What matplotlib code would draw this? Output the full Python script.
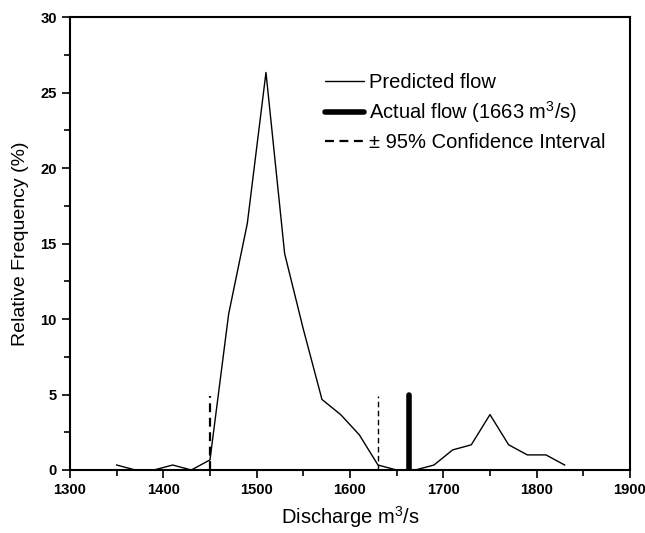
import matplotlib.pyplot as plt
from matplotlib.ticker import MultipleLocator

plt.rcParams['font.family'] = ['Liberation Sans', 'DejaVu Sans']

# predicted discharge bins (m3/s) and relative frequency (%)
discharge = [1350, 1370, 1390, 1410, 1430, 1450, 1470, 1490, 1510, 1530, 1550, 1570, 1590,
             1610, 1630, 1650, 1670, 1690, 1710, 1730, 1750, 1770, 1790, 1810, 1830]
frequency = [0.33, 0, 0, 0.33, 0, 0.67, 10.33, 16.33, 26.33, 14.33, 9.33, 4.67, 3.67,
             2.33, 0.33, 0, 0, 0.33, 1.33, 1.67, 3.67, 1.67, 1.0, 1.0, 0.33]

actual_flow = 1663
ci_low, ci_high = 1450, 1630
marker_height = 5.0
ci_height = 4.9

fig = plt.figure(figsize=(6.45, 5.33), dpi=100)
ax = fig.add_axes([0.1085, 0.1182, 0.8682, 0.8498])

ax.plot(discharge, frequency, color='black', lw=1.0, label='Predicted flow')
ax.plot([actual_flow, actual_flow], [0, marker_height], color='black', lw=4,
        solid_capstyle='round', label='Actual flow (1663 m$^{\\mathregular{3}}$/s)')
ax.plot([ci_low, ci_low], [0, ci_height], color='black', lw=1.6, ls=(0, (4, 2.5)),
        label='± 95% Confidence Interval')
ax.plot([ci_high, ci_high], [0, ci_height], color='black', lw=1.0, ls=(0, (4, 2.5)))

ax.set_xlim(1300, 1900)
ax.set_ylim(0, 30)
ax.xaxis.set_major_locator(MultipleLocator(100))
ax.xaxis.set_minor_locator(MultipleLocator(50))
ax.yaxis.set_major_locator(MultipleLocator(5))
ax.yaxis.set_minor_locator(MultipleLocator(2.5))
ax.tick_params(which='both', direction='out', width=1.2, top=False, right=False)
ax.tick_params(which='major', length=6)
ax.tick_params(which='minor', length=4)
for lbl in ax.get_xticklabels() + ax.get_yticklabels():
    lbl.set_fontweight('bold')
    lbl.set_fontsize(10.6)
for s in ax.spines.values():
    s.set_linewidth(1.5)

ax.set_xlabel('Discharge m$^{\\mathregular{3}}$/s', fontsize=14.5, labelpad=5)
ax.set_ylabel('Relative Frequency (%)', fontsize=14, labelpad=8)

leg = ax.legend(loc='upper left', bbox_to_anchor=(0.455, 0.877), frameon=False, fontsize=14.5,
                handlelength=1.95, handletextpad=0.25, labelspacing=0.38,
                borderpad=0, borderaxespad=0)
for h in leg.get_lines():
    h.set_solid_capstyle('round')

fig.savefig('out.png', dpi=100)
